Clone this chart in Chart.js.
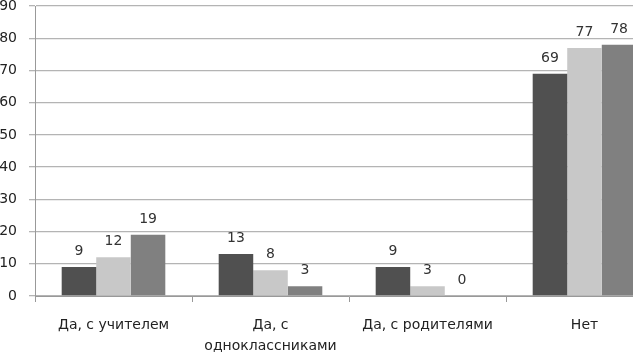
<!DOCTYPE html>
<html>
<head>
<meta charset="utf-8">
<script src="https://cdn.jsdelivr.net/npm/chart.js@4"></script>
<style>
  html, body { margin: 0; padding: 0; background: #fff; overflow: hidden; width: 633px; height: 353px; }
  #wrap { width: 665px; height: 353px; }
</style>
</head>
<body>
<div id="wrap"><canvas id="myChart" width="665" height="353"></canvas></div>
<script>
const categories = ['Да, с учителем', ['Да, с', 'одноклассниками'], 'Да, с родителями', 'Нет'];
const series1 = [9, 13, 9, 69];
const series2 = [12, 8, 3, 77];
const series3 = [19, 3, 0, 78];
const yTicks = [0, 10, 20, 30, 40, 50, 60, 70, 80, 90];

const font = "'DejaVu Sans', sans-serif";

// value labels over each bar
const valueLabels = {
  id: 'valueLabels',
  afterDatasetsDraw(chart) {
    const ctx = chart.ctx;
    ctx.save();
    ctx.font = '14px ' + font;
    ctx.fillStyle = '#333';
    ctx.textAlign = 'center';
    ctx.textBaseline = 'alphabetic';
    chart.data.datasets.forEach((ds, i) => {
      chart.getDatasetMeta(i).data.forEach((bar, j) => {
        ctx.fillText(ds.data[j], bar.x, bar.y - 12);
      });
    });
    ctx.restore();
  }
};

new Chart(document.getElementById('myChart').getContext('2d'), {
  type: 'bar',
  data: {
    labels: categories,
    datasets: [
      { data: series1, backgroundColor: '#505050' },
      { data: series2, backgroundColor: '#c8c8c8' },
      { data: series3, backgroundColor: '#808080' }
    ]
  },
  options: {
    responsive: false,
    animation: false,
    layout: { padding: { top: 0, left: 0, right: 2, bottom: 0 } },
    datasets: { bar: { categoryPercentage: 0.66, barPercentage: 1 } },
    plugins: { legend: { display: false }, tooltip: { enabled: false } },
    scales: {
      x: {
        afterFit: axis => { axis.height = 57; axis.paddingLeft = 0; axis.paddingRight = 0; },
        grid: { display: true, drawOnChartArea: false, offset: true, tickLength: 6, color: '#999' },
        border: { color: '#999' },
        ticks: { color: '#222', font: { family: font, size: 14, lineHeight: 1.5 }, padding: 13, maxRotation: 0, autoSkip: false }
      },
      y: {
        min: 0,
        max: 90,
        afterBuildTicks: axis => { axis.ticks = yTicks.map(v => ({ value: v })); },
        afterFit: axis => { axis.width = 35; axis.paddingTop = 6; axis.paddingBottom = 0; },
        grid: { color: '#b4b4b4', tickLength: 6, lineWidth: 1.3 },
        border: { color: '#999' },
        ticks: { color: '#222', font: { family: font, size: 14, lineHeight: 1 }, padding: 12 }
      }
    }
  },
  plugins: [valueLabels]
});
</script>
</body>
</html>
